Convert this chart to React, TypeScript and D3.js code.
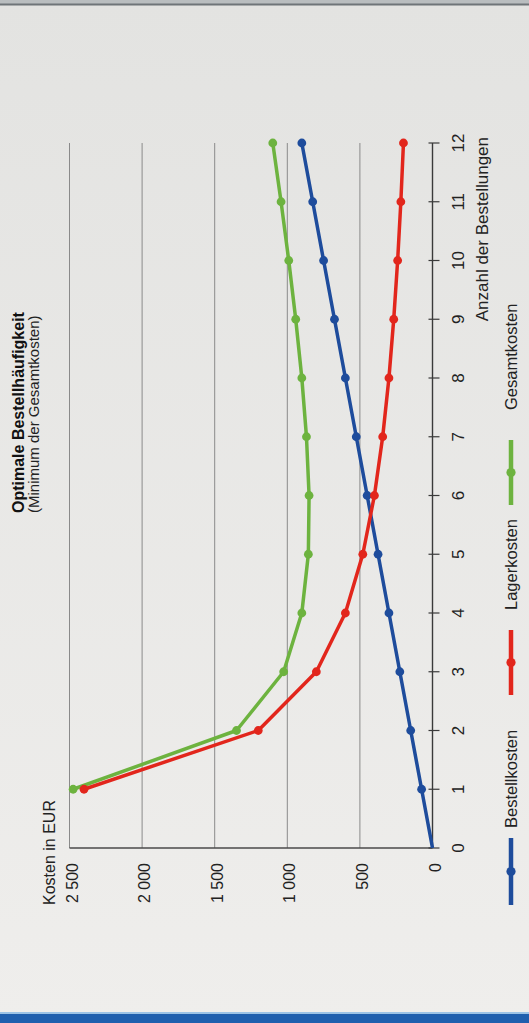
import React from "react";
import * as d3 from "d3";

// ---- data ----
const orders = [0, 1, 2, 3, 4, 5, 6, 7, 8, 9, 10, 11, 12];
const bestellkosten: (number | null)[] = [0, 75, 150, 225, 300, 375, 450, 525, 600, 675, 750, 825, 900];
const lagerkosten: (number | null)[] = [null, 2400, 1200, 800, 600, 480, 400, 343, 300, 267, 240, 218, 200];
const gesamtkosten: (number | null)[] = [null, 2475, 1350, 1025, 900, 855, 850, 868, 900, 942, 990, 1043, 1100];
const valueTicks = [0, 500, 1000, 1500, 2000, 2500];
const valueTickLabels = ["0", "500", "1 000", "1 500", "2 000", "2 500"];
const seriesNames = ["Bestellkosten", "Lagerkosten", "Gesamtkosten"];
const title = "Optimale Bestellhäufigkeit";
const subtitle = "(Minimum der Gesamtkosten)";
const yTitle = "Kosten in EUR";
const xTitle = "Anzahl der Bestellungen";

const COLORS: Record<string, string> = {
  Bestellkosten: "#1e4c9c",
  Lagerkosten: "#e2261c",
  Gesamtkosten: "#6db33f",
};

const W = 529;
const H = 1023;
const FONT = "'Liberation Sans', Arial, sans-serif";

export default function App() {
  // natural (unrotated) frame: u along the order axis, v downward for value
  const x = d3.scaleLinear().domain([0, 12]).range([175, 880]);
  const y = d3.scaleLinear().domain([0, 2500]).range([432.5, 69.5]);

  const values: Record<string, (number | null)[]> = {
    Bestellkosten: bestellkosten,
    Lagerkosten: lagerkosten,
    Gesamtkosten: gesamtkosten,
  };

  const line = d3
    .line<[number, number | null]>()
    .defined((d) => d[1] != null)
    .x((d) => x(d[0]))
    .y((d) => y(d[1] as number));

  const drawOrder = ["Gesamtkosten", "Bestellkosten", "Lagerkosten"];

  // legend layout (natural u positions)
  const legend = [
    { name: seriesNames[0], u0: 118, u1: 185, tu: 195 },
    { name: seriesNames[1], u0: 328, u1: 393, tu: 413 },
    { name: seriesNames[2], u0: 518, u1: 583, tu: 613 },
  ];

  return (
    <svg
      width={W}
      height={H}
      style={{ position: "absolute", left: 0, top: 0, display: "block" }}
      fontFamily={FONT}
    >
      <defs>
        <linearGradient id="bg" x1="0" y1="0" x2="0" y2="1">
          <stop offset="0" stopColor="#e3e3e1" />
          <stop offset="1" stopColor="#efeeec" />
        </linearGradient>
      </defs>
      <rect x={0} y={0} width={W} height={H} fill="url(#bg)" />
      {/* top page edge */}
      <rect x={0} y={0} width={W} height={4} fill="#b9bdbf" />
      <rect x={0} y={3.5} width={W} height={2} fill="#6f7478" />
      {/* bottom blue band */}
      <rect x={0} y={1012} width={W} height={2} fill="#9cc3e6" />
      <rect x={0} y={1014} width={W} height={9} fill="#1f5fae" />

      <g transform={`translate(0,${H}) rotate(-90)`}>
        {/* grid lines */}
        {valueTicks
          .filter((t) => t > 0)
          .map((t) => (
            <line
              key={"g" + t}
              x1={x(0)}
              x2={x(12)}
              y1={y(t)}
              y2={y(t)}
              stroke="#8a8a8a"
              strokeWidth={1}
            />
          ))}
        {/* value axis line at n = 0 */}
        <line x1={x(0)} x2={x(0)} y1={y(0)} y2={y(2500)} stroke="#4a4a4a" strokeWidth={1.4} />
        {/* order axis */}
        <line x1={x(0)} x2={x(12)} y1={y(0)} y2={y(0)} stroke="#3a3a3a" strokeWidth={1.4} />
        {orders.map((n) => (
          <line
            key={"t" + n}
            x1={x(n)}
            x2={x(n)}
            y1={y(0) - 4}
            y2={y(0) + 7}
            stroke="#3a3a3a"
            strokeWidth={1.2}
          />
        ))}
        {orders.map((n) => (
          <text
            key={"tl" + n}
            x={x(n)}
            y={464}
            fontSize={17}
            textAnchor="middle"
            fill="#222"
          >
            {String(n)}
          </text>
        ))}
        <text x={886} y={488} fontSize={17} textAnchor="end" fill="#222">
          {xTitle}
        </text>

        {/* value tick labels */}
        {valueTicks.map((t, i) => (
          <text
            key={"vl" + t}
            x={160}
            y={y(t) + 8}
            fontSize={16}
            textAnchor="end"
            fill="#222"
          >
            {valueTickLabels[i]}
          </text>
        ))}
        <text x={118} y={55} fontSize={16} fill="#222">
          {yTitle}
        </text>

        {/* title */}
        <text x={510} y={24} fontSize={16} fontWeight="bold" fill="#111">
          {title}
        </text>
        <text x={510} y={39} fontSize={15} fill="#222">
          {subtitle}
        </text>

        {/* series */}
        {drawOrder.map((name) => {
          const vals = values[name];
          const pts: [number, number | null][] = orders.map((n, i) => [n, vals[i]]);
          return (
            <g key={name}>
              <path
                d={line(pts) || ""}
                fill="none"
                stroke={COLORS[name]}
                strokeWidth={3.5}
                strokeLinejoin="round"
              />
              {pts
                .filter((p) => p[1] != null && p[0] > 0)
                .map((p) => (
                  <circle
                    key={name + p[0]}
                    cx={x(p[0])}
                    cy={y(p[1] as number)}
                    r={4.4}
                    fill={COLORS[name]}
                  />
                ))}
            </g>
          );
        })}

        {/* legend */}
        {legend.map((l) => (
          <g key={"lg" + l.name}>
            <line
              x1={l.u0}
              x2={l.u1}
              y1={511}
              y2={511}
              stroke={COLORS[l.name]}
              strokeWidth={4.5}
            />
            <circle cx={(l.u0 + l.u1) / 2} cy={511} r={4.6} fill={COLORS[l.name]} />
            <text x={l.tu} y={517} fontSize={16.5} fill="#222">
              {l.name}
            </text>
          </g>
        ))}
      </g>
    </svg>
  );
}
